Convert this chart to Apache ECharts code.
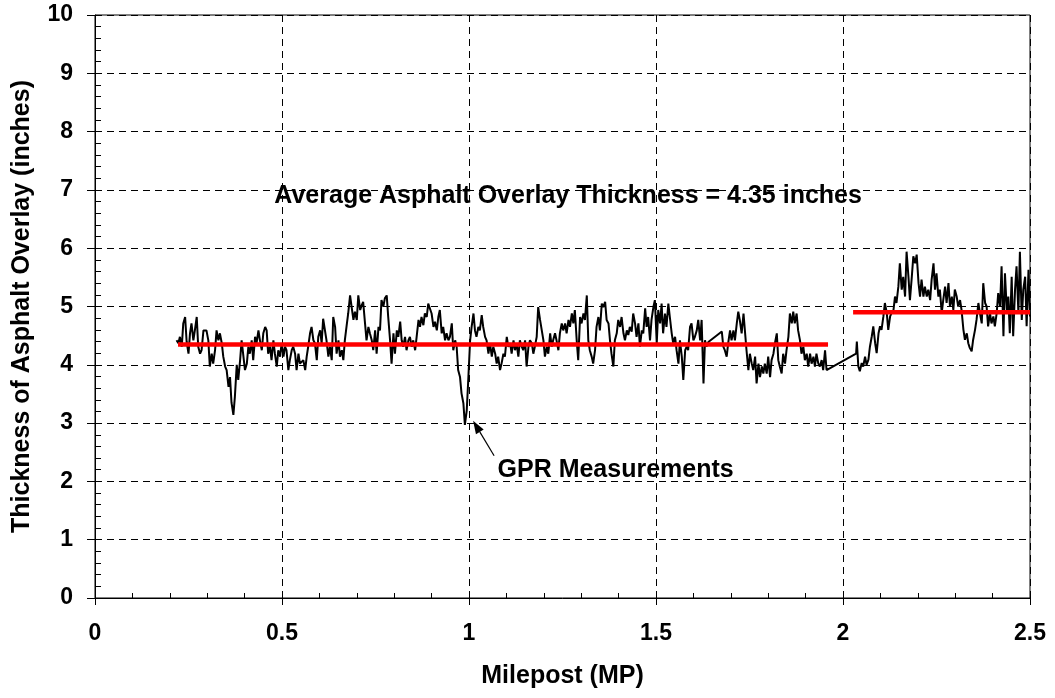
<!DOCTYPE html>
<html>
<head>
<meta charset="utf-8">
<script src="https://cdn.jsdelivr.net/npm/echarts@6/dist/echarts.min.js"></script>
<style>
html, body { margin: 0; padding: 0; background: #fff; }
#chart { width: 1055px; height: 698px; }
</style>
</head>
<body>
<div id="chart"></div>
<script>
// GPR measurements, first run (up to about MP 1.96)
const milepostA = [
  0.218,0.223,0.227,0.232,0.236,0.241,0.245,0.250,0.254,0.258,
  0.263,0.267,0.272,0.276,0.281,0.285,0.290,0.294,0.298,0.303,
  0.307,0.312,0.316,0.321,0.325,0.330,0.334,0.339,0.343,0.348,
  0.352,0.357,0.361,0.365,0.370,0.374,0.379,0.383,0.388,0.392,
  0.397,0.401,0.406,0.410,0.414,0.419,0.423,0.428,0.432,0.437,
  0.441,0.446,0.450,0.455,0.459,0.463,0.468,0.472,0.477,0.481,
  0.486,0.490,0.495,0.499,0.504,0.508,0.512,0.517,0.521,0.526,
  0.530,0.535,0.539,0.544,0.548,0.553,0.557,0.562,0.566,0.570,
  0.575,0.579,0.584,0.588,0.593,0.597,0.602,0.606,0.610,0.615,
  0.619,0.624,0.628,0.633,0.637,0.642,0.646,0.651,0.655,0.660,
  0.664,0.668,0.673,0.677,0.682,0.686,0.691,0.695,0.700,0.704,
  0.709,0.713,0.717,0.722,0.726,0.731,0.735,0.740,0.744,0.749,
  0.753,0.758,0.762,0.766,0.771,0.775,0.780,0.784,0.789,0.793,
  0.798,0.802,0.807,0.811,0.816,0.820,0.824,0.829,0.833,0.838,
  0.842,0.847,0.851,0.856,0.860,0.865,0.869,0.873,0.878,0.882,
  0.887,0.891,0.896,0.900,0.905,0.909,0.914,0.918,0.922,0.927,
  0.931,0.936,0.940,0.945,0.949,0.954,0.958,0.963,0.967,0.971,
  0.976,0.980,0.985,0.989,0.994,0.998,1.003,1.007,1.012,1.016,
  1.020,1.025,1.029,1.034,1.038,1.043,1.047,1.052,1.056,1.061,
  1.065,1.070,1.074,1.078,1.083,1.087,1.092,1.096,1.101,1.105,
  1.110,1.114,1.119,1.123,1.127,1.132,1.136,1.141,1.145,1.150,
  1.154,1.159,1.163,1.168,1.172,1.176,1.181,1.185,1.190,1.194,
  1.199,1.203,1.208,1.212,1.217,1.221,1.225,1.230,1.234,1.239,
  1.243,1.248,1.252,1.257,1.261,1.266,1.270,1.275,1.279,1.283,
  1.288,1.292,1.297,1.301,1.306,1.310,1.315,1.319,1.323,1.328,
  1.332,1.337,1.341,1.346,1.350,1.355,1.359,1.364,1.368,1.373,
  1.377,1.381,1.386,1.390,1.395,1.399,1.404,1.408,1.413,1.417,
  1.422,1.426,1.430,1.435,1.439,1.444,1.448,1.453,1.457,1.462,
  1.466,1.471,1.475,1.479,1.484,1.488,1.493,1.497,1.502,1.506,
  1.511,1.515,1.519,1.524,1.528,1.533,1.537,1.542,1.546,1.551,
  1.555,1.560,1.564,1.569,1.573,1.578,1.582,1.586,1.591,1.595,
  1.600,1.604,1.609,1.613,1.618,1.622,1.627,1.631,1.635,1.640,
  1.676,1.680,1.684,
  1.689,1.693,1.698,1.702,1.707,1.711,1.716,1.720,1.724,1.729,
  1.734,1.738,1.742,1.747,1.751,1.756,1.760,1.765,1.769,1.774,
  1.778,1.783,1.787,1.791,1.796,1.800,1.805,1.809,1.814,1.818,
  1.823,1.827,1.831,1.836,1.840,1.845,1.849,1.854,1.858,1.863,
  1.867,1.871,1.876,1.880,1.885,1.889,1.894,1.898,1.903,1.907,
  1.912,1.916,1.921,1.925,1.929,1.934,1.938,1.943,1.947,1.952,
  1.956
];
const thicknessA = [
  4.42,4.37,4.48,4.31,4.71,4.82,4.40,4.19,4.54,4.71,
  4.42,4.59,4.82,4.31,4.19,4.25,4.59,4.62,4.59,4.42,
  3.97,4.19,4.02,4.25,4.59,4.42,4.54,4.37,4.14,3.97,
  3.91,3.62,3.79,3.35,3.14,3.45,4.00,3.74,4.08,4.42,
  4.45,3.91,4.02,4.31,4.19,4.42,4.08,4.48,4.37,4.59,
  4.42,4.25,4.54,4.65,4.59,4.19,4.31,4.08,4.42,4.19,
  3.97,4.25,4.14,4.37,4.14,4.31,4.25,3.91,4.08,4.25,
  4.31,4.19,3.91,4.19,4.02,3.99,4.08,3.91,4.14,4.31,
  4.54,4.65,4.42,4.37,4.08,4.48,4.59,4.37,4.79,4.77,
  4.42,4.14,4.31,4.08,4.82,4.65,4.19,4.42,4.14,4.25,
  4.08,4.42,4.68,4.88,5.19,5.00,4.77,4.91,4.77,5.19,
  4.94,5.02,5.08,4.71,4.42,4.65,4.54,4.42,4.25,4.59,
  4.19,4.65,4.59,5.11,5.00,5.14,5.19,4.82,4.42,4.02,
  4.54,4.19,4.59,4.48,4.74,4.42,4.31,4.48,4.25,4.42,
  4.48,4.31,4.42,4.25,4.48,4.77,4.65,4.82,4.68,4.88,
  4.82,5.05,5.05,4.88,4.65,4.74,4.59,4.82,4.94,4.54,
  4.65,4.42,4.54,4.42,4.48,4.71,4.25,4.42,4.31,3.91,
  3.79,3.51,3.34,2.97,3.22,3.74,4.42,4.65,4.88,4.59,
  4.48,4.65,4.59,4.85,4.65,4.48,4.42,4.19,4.37,4.14,
  4.31,4.19,4.02,4.14,3.91,4.02,4.19,4.14,4.48,4.31,
  4.37,4.19,4.42,4.25,4.37,4.14,4.42,4.31,4.25,4.42,
  3.97,4.31,4.42,4.37,4.19,4.31,4.48,4.99,4.77,4.77,
  4.42,4.14,4.31,4.19,4.54,4.31,4.42,4.54,4.42,4.25,
  4.54,4.71,4.59,4.71,4.54,4.77,4.65,4.88,4.71,4.94,
  4.42,4.08,4.82,4.71,4.88,4.77,5.19,4.42,4.25,4.14,
  4.02,4.25,4.65,4.82,4.59,5.05,4.99,5.08,4.77,4.71,
  4.42,4.19,3.97,4.42,4.54,4.77,4.65,4.82,4.54,4.42,
  4.59,4.51,4.65,4.57,4.88,4.71,4.48,4.71,4.31,4.59,
  4.54,4.97,4.65,4.82,4.42,4.77,4.99,5.11,4.37,4.94,
  4.71,5.05,4.54,4.88,4.65,5.05,4.82,4.54,4.37,4.48,
  4.25,4.02,4.42,4.14,3.74,4.25,4.31,4.25,4.65,4.71,
  4.42,4.48,4.59,4.77,4.42,4.77,3.68,4.42,4.31,4.39,
  4.57,4.31,4.25,
  4.14,4.37,4.59,4.42,4.59,4.42,4.71,4.91,4.77,4.54,
  4.88,4.91,4.25,3.91,4.19,4.02,3.91,4.14,3.68,4.02,
  3.79,3.97,3.85,4.02,3.85,4.14,3.79,4.08,4.19,4.37,
  4.54,4.08,3.97,3.85,4.19,4.02,4.25,4.48,4.88,4.71,
  4.91,4.71,4.88,4.59,4.42,4.19,4.31,4.08,4.19,3.97,
  4.19,4.02,4.14,3.97,4.19,4.02,3.97,4.08,3.91,4.25,
  3.91
];

// GPR measurements, second run (from about MP 2.03)
const milepostB = [
  2.035,
  2.037,2.041,2.045,2.050,2.054,2.059,2.063,2.068,2.072,2.077,
  2.081,2.086,2.090,2.095,2.099,2.103,2.108,2.112,2.117,2.121,
  2.126,2.130,2.135,2.139,2.143,2.148,2.152,2.157,2.161,2.166,
  2.170,2.175,2.179,2.184,2.188,2.193,2.197,2.202,2.206,2.210,
  2.215,2.219,2.224,2.228,2.233,2.237,2.242,2.246,2.250,2.255,
  2.259,2.264,2.268,2.273,2.277,2.282,2.286,2.291,2.295,2.299,
  2.304,2.308,2.313,2.317,2.322,2.326,2.331,2.335,2.339,2.344,
  2.348,2.353,2.357,2.362,2.366,2.371,2.375,2.380,2.384,2.388,
  2.393,2.397,2.402,2.406,2.411,2.415,2.420,2.424,2.429,2.433,
  2.438,2.442,2.446,2.451,2.455,2.460,2.464,2.469,2.473,2.478,
  2.482,2.487,2.491,2.496,2.500
];
const thicknessB = [
  4.19,
  4.40,3.97,3.89,4.03,3.97,4.14,4.00,4.09,4.31,4.49,
  4.66,4.37,4.20,4.54,4.66,4.60,4.83,5.06,4.89,4.60,
  4.83,4.89,4.94,5.17,5.06,5.34,5.74,5.29,5.51,5.17,
  5.94,5.51,5.11,5.51,5.86,5.74,5.89,5.40,5.17,5.46,
  5.17,5.34,5.17,5.29,5.11,5.46,5.74,5.29,5.57,5.17,
  5.29,4.89,5.11,5.34,5.06,5.40,5.00,5.17,4.94,5.29,
  5.17,5.00,5.11,4.94,4.60,4.43,4.54,4.37,4.29,4.23,
  4.43,4.60,4.77,5.06,4.89,4.71,5.40,5.06,5.00,4.66,
  4.89,4.71,4.83,4.66,4.89,5.23,5.00,5.69,4.49,5.57,
  4.94,5.17,4.54,5.51,4.49,5.29,5.69,4.89,5.94,4.77,
  5.29,5.51,4.66,5.63,4.83
];

// average thickness lines (red)
const averageMilepostsA = [0.222, 1.960];
const averageThicknessA = 4.35;
const averageMilepostsB = [2.027, 2.500];
const averageThicknessB = 4.90;

const font = "'Liberation Sans', Arial, sans-serif";

const gprData = milepostA.map((m, i) => [m, thicknessA[i]])
  .concat(milepostB.map((m, i) => [m, thicknessB[i]]));

const chart = echarts.init(document.getElementById('chart'));

const tickStyle = { fontFamily: font, fontSize: 23, fontWeight: 'bold', color: '#000' };
const titleStyle = { fontFamily: font, fontSize: 25, fontWeight: 'bold', color: '#000' };
const gridDash = { show: true, lineStyle: { color: '#000', width: 1, type: [7, 5] } };

chart.setOption({
  animation: false,
  grid: {
    left: 95, right: 25, top: 15, bottom: 100,
    show: true, borderColor: '#000', borderWidth: 1
  },
  xAxis: [
    {
      type: 'value', min: 0, max: 2.5, interval: 0.5,
      name: 'Milepost (MP)', nameLocation: 'middle', nameGap: 66,
      nameTextStyle: titleStyle,
      axisLine: { onZero: false, lineStyle: { color: '#000', width: 1 } },
      axisTick: { show: true, length: 7, lineStyle: { color: '#000' } },
      axisLabel: Object.assign({ margin: 24 }, tickStyle),
      splitLine: gridDash
    },
    {
      // inner minor ticks
      type: 'value', min: 0, max: 2.5, interval: 0.5, position: 'bottom',
      axisLine: { show: false }, axisLabel: { show: false },
      axisTick: { show: false, inside: true }, splitLine: { show: false },
      minorTick: { show: true, splitNumber: 5, length: 5, lineStyle: { color: '#000' } }
    }
  ],
  yAxis: [
    {
      type: 'value', min: 0, max: 10, interval: 1,
      name: 'Thickness of Asphalt Overlay (inches)', nameLocation: 'middle', nameGap: 60,
      nameTextStyle: titleStyle,
      axisLine: { show: true, onZero: false, lineStyle: { color: '#000', width: 1 } },
      axisTick: { show: true, length: 8, lineStyle: { color: '#000' } },
      axisLabel: Object.assign({ margin: 22 }, tickStyle),
      splitLine: gridDash
    },
    {
      type: 'value', min: 0, max: 10, interval: 1, position: 'left',
      axisLine: { show: false }, axisLabel: { show: false },
      axisTick: { show: false, inside: true }, splitLine: { show: false },
      minorTick: { show: true, splitNumber: 5, length: 6, lineStyle: { color: '#000' } }
    }
  ],
  series: [
    {
      name: 'GPR Measurements', type: 'line', data: gprData,
      showSymbol: false, symbol: 'none',
      lineStyle: { color: '#000', width: 2 }, z: 2
    },
    {
      type: 'line', symbol: 'none', z: 3,
      data: averageMilepostsA.map(m => [m, averageThicknessA]),
      lineStyle: { color: '#ff0000', width: 4.5 }
    },
    {
      type: 'line', symbol: 'none', z: 3,
      data: averageMilepostsB.map(m => [m, averageThicknessB]),
      lineStyle: { color: '#ff0000', width: 4.5 }
    }
  ]
});

// annotations
const tip = chart.convertToPixel({ gridIndex: 0 }, [1.011, 3.04]);
const tail = [tip[0] + 21, tip[1] + 35];
const ang = Math.atan2(tip[1] - tail[1], tip[0] - tail[0]);
const headLen = 13, headHalf = 4.5;
const base = [tip[0] - headLen * Math.cos(ang), tip[1] - headLen * Math.sin(ang)];
const head = [
  tip,
  [base[0] + headHalf * Math.sin(ang), base[1] - headHalf * Math.cos(ang)],
  [base[0] - headHalf * Math.sin(ang), base[1] + headHalf * Math.cos(ang)]
];
const avgLabelPos = chart.convertToPixel({ gridIndex: 0 }, [1.265, 6.9]);
const gprLabelPos = chart.convertToPixel({ gridIndex: 0 }, [1.392, 2.2]);

chart.setOption({
  graphic: [
    {
      type: 'text', x: avgLabelPos[0], y: avgLabelPos[1], z: 10,
      style: {
        text: 'Average Asphalt Overlay Thickness = 4.35 inches',
        font: 'bold 25px ' + font, fill: '#000',
        textAlign: 'center', textVerticalAlign: 'middle'
      }
    },
    {
      type: 'text', x: gprLabelPos[0], y: gprLabelPos[1], z: 10,
      style: {
        text: 'GPR Measurements',
        font: 'bold 25px ' + font, fill: '#000',
        textAlign: 'center', textVerticalAlign: 'middle'
      }
    },
    {
      type: 'line', z: 10,
      shape: { x1: tail[0], y1: tail[1], x2: base[0], y2: base[1] },
      style: { stroke: '#000', lineWidth: 1.2 }
    },
    {
      type: 'polygon', z: 10,
      shape: { points: head },
      style: { fill: '#000' }
    }
  ]
});
</script>
</body>
</html>
